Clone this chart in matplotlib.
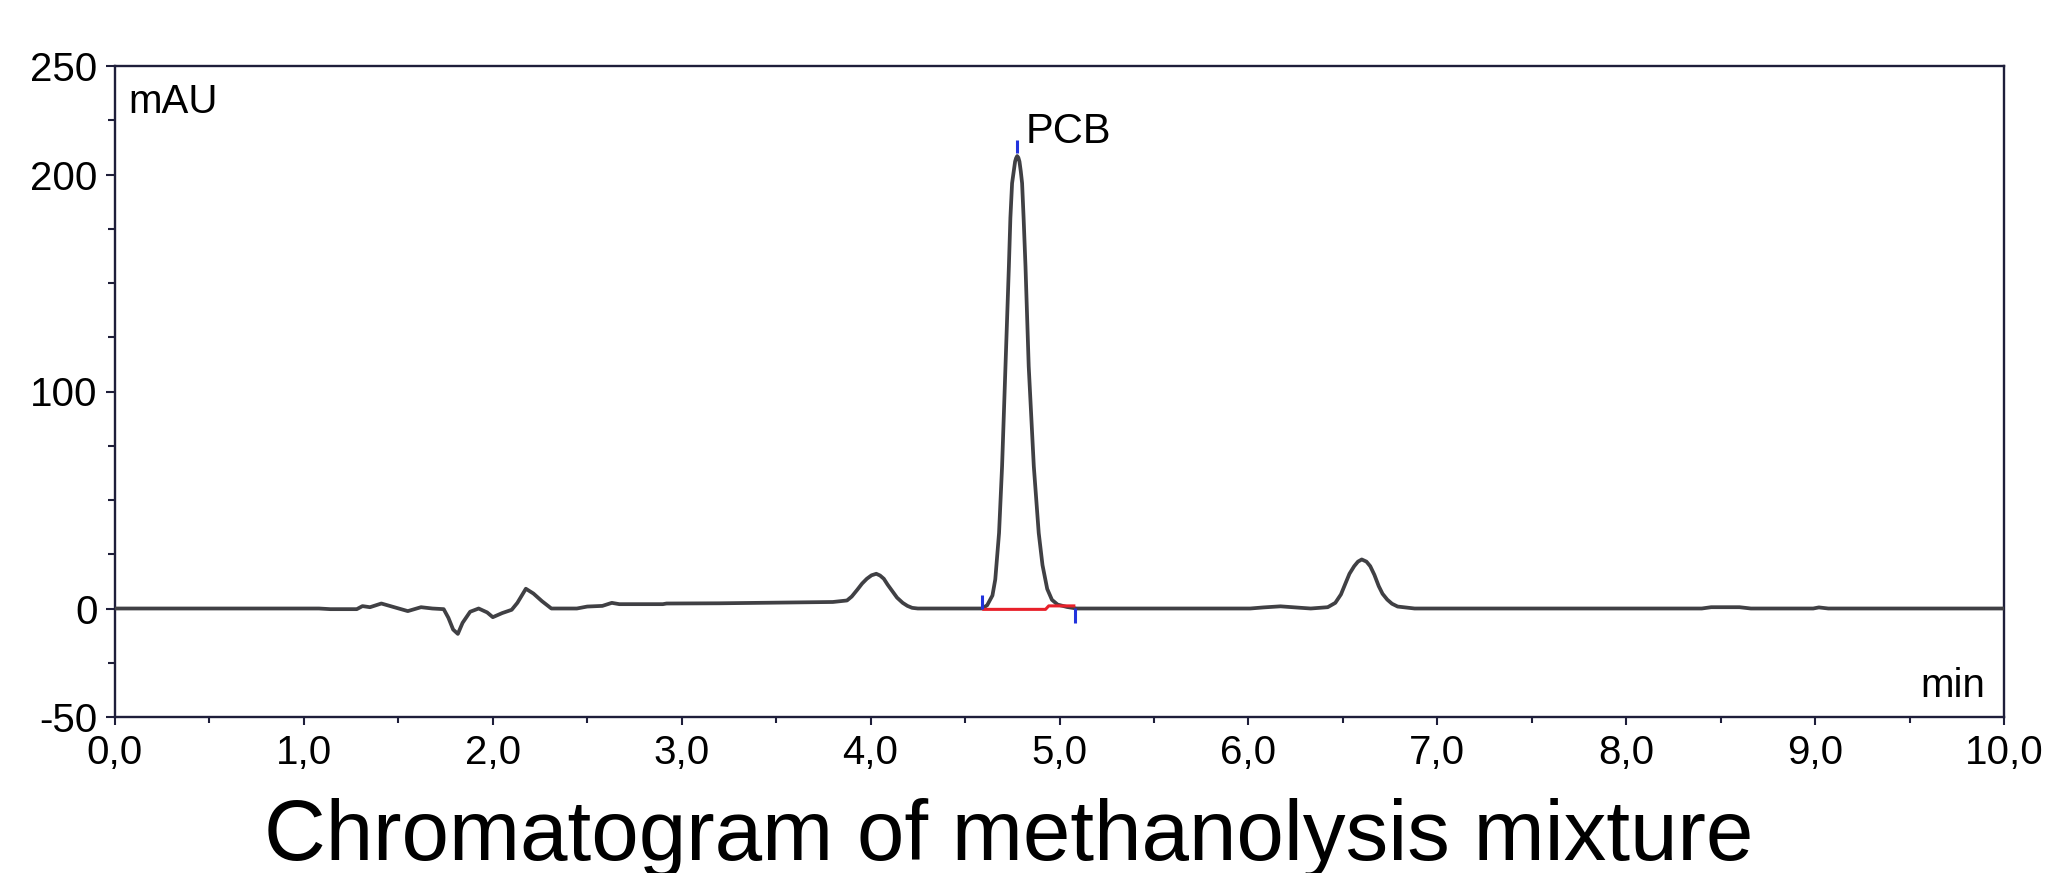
import matplotlib
matplotlib.use("Agg")
import matplotlib.pyplot as plt
from matplotlib.ticker import FixedLocator

plt.rcParams['font.family'] = ['Liberation Sans', 'DejaVu Sans']

# ---- data ----
time_min = [0.0, 1.08, 1.14, 1.28, 1.31, 1.35, 1.41, 1.47, 1.55, 1.62, 1.68, 1.74,
            1.765, 1.79, 1.815, 1.84, 1.88, 1.925, 1.97, 2.00, 2.05, 2.10, 2.13,
            2.175, 2.215, 2.26, 2.31, 2.445, 2.50, 2.58, 2.63, 2.67, 2.90, 2.92,
            3.20, 3.80, 3.875, 3.90, 3.93, 3.955, 3.98, 4.005, 4.03, 4.05, 4.07,
            4.09, 4.115, 4.14, 4.17, 4.195, 4.22, 4.25,
            4.59, 4.617, 4.645, 4.66, 4.68, 4.696, 4.714, 4.732, 4.740, 4.749, 4.757,
            4.765, 4.770, 4.776, 4.782, 4.788, 4.795, 4.802, 4.81, 4.82, 4.837, 4.864,
            4.89, 4.91, 4.935, 4.96, 4.99, 5.04, 5.09, 6.01, 6.08, 6.17, 6.28,
            6.33, 6.42, 6.46, 6.49, 6.515, 6.535, 6.56, 6.58, 6.60, 6.625, 6.645,
            6.667, 6.69, 6.71, 6.735, 6.76, 6.79, 6.88,
            8.40, 8.45, 8.60, 8.66, 8.99, 9.02, 9.07, 10.0]
signal_mAU = [0.0, 0.0, -0.3, -0.3, 1.1, 0.6, 2.3, 0.8, -1.2, 0.6, 0.0, -0.3,
              -4.3, -9.7, -11.7, -6.6, -1.5, 0.0, -1.8, -4.0, -2.1, -0.6, 2.6,
              9.1, 6.9, 3.4, 0.0, 0.0, 0.9, 1.2, 2.6, 2.0, 2.0, 2.3,
              2.4, 3.0, 3.7, 5.5, 8.7, 11.5, 13.7, 15.3, 16.0, 15.2, 13.7,
              11.0, 8.0, 5.0, 2.6, 1.2, 0.3, 0.0,
              0.0, 1.5, 6.0, 13.4, 34.8, 65.5, 111.6, 157.6, 180.0, 196.0, 201.0,
              206.0, 207.5, 208.5, 207.8, 206.0, 201.5, 196.0, 180.0, 157.6, 111.6, 65.5,
              34.8, 20.0, 9.0, 4.0, 1.8, 0.7, 0.0, 0.0, 0.5, 1.0, 0.3,
              0.0, 0.6, 2.6, 6.5, 11.8, 16.0, 19.5, 21.6, 22.6, 21.6, 19.5,
              15.5, 10.3, 6.8, 4.1, 2.2, 0.9, 0.0,
              0.0, 0.6, 0.6, 0.0, 0.0, 0.5, 0.0, 0.0]

# integration baseline (red) of the PCB peak
int_base_t = [4.599, 4.926, 4.943, 5.076]
int_base_v = [-0.4, -0.4, 1.2, 1.2]

# integration / apex markers (blue)
marker_t = [4.590, 4.776, 5.081]
marker_lo = [0.0, 210.0, -6.6]
marker_hi = [6.4, 216.0, 0.3]

peak_name = "PCB"
peak_label_t = 4.82
peak_label_v = 214.5

x_ticks = [0, 1, 2, 3, 4, 5, 6, 7, 8, 9, 10]
x_tick_labels = ["0,0", "1,0", "2,0", "3,0", "4,0", "5,0", "6,0", "7,0", "8,0", "9,0", "10,0"]
x_minor = [0.5, 1.5, 2.5, 3.5, 4.5, 5.5, 6.5, 7.5, 8.5, 9.5]
y_ticks = [-50, 0, 100, 200, 250]
y_minor = [-25, 25, 50, 75, 125, 150, 175, 225]

title = "Chromatogram of methanolysis mixture"

# ---- figure ----
fig = plt.figure(figsize=(20.48, 8.73), dpi=100)
ax = fig.add_axes([115/2048, 1 - 717/873, (2004-115)/2048, (717-66)/873])

spine_col = '#1e1e3a'
ax.plot(time_min, signal_mAU, color='#404044', lw=2.7, solid_joinstyle='round',
        solid_capstyle='round', zorder=3)
ax.plot(int_base_t, int_base_v, color='#e8202a', lw=2.2, zorder=4)
ax.vlines(marker_t, marker_lo, marker_hi, color='#2233dd', lw=2.2, zorder=5)
ax.text(peak_label_t, peak_label_v, peak_name, fontsize=30, ha='left', va='baseline', color='black')

ax.set_xlim(0, 10)
ax.set_ylim(-50, 250)
ax.set_xticks(x_ticks)
ax.set_xticklabels(x_tick_labels)
ax.set_yticks(y_ticks)
ax.set_yticklabels([str(v) for v in y_ticks])
ax.xaxis.set_minor_locator(FixedLocator(x_minor))
ax.yaxis.set_minor_locator(FixedLocator(y_minor))

for s in ax.spines.values():
    s.set_color(spine_col)
    s.set_linewidth(1.7)

ax.tick_params(axis='both', which='both', direction='out', color=spine_col, width=1.5,
               labelsize=29, labelcolor='black')
ax.tick_params(axis='x', which='major', length=5.5, pad=7)
ax.tick_params(axis='x', which='minor', length=4)
ax.tick_params(axis='y', which='major', length=6.5, pad=6)
ax.tick_params(axis='y', which='minor', length=5)

ax.text((128-115)/1889, (717-113)/651, "mAU", transform=ax.transAxes,
        fontsize=29, ha='left', va='baseline')
ax.text((1985-115)/1889, (717-697)/651, "min", transform=ax.transAxes,
        fontsize=29, ha='right', va='baseline')

fig.text(1009/2048, 1 - 860/873, title, fontsize=61.5, ha='center', va='baseline')

fig.savefig("out.png", dpi=100)
